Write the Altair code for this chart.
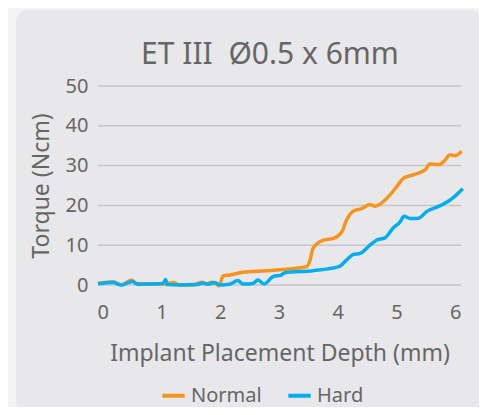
import altair as alt
import pandas as pd

normal_x = [-0.08, 0.18, 0.32, 0.49, 0.57, 1.03, 1.2, 1.31, 1.54, 1.68, 1.77, 1.85, 1.94, 1.98, 2.05, 2.16, 2.39, 2.79, 3.47, 3.53, 3.58, 3.76, 3.93, 4.07, 4.15, 4.27, 4.41, 4.55, 4.64, 4.81, 4.98, 5.12, 5.29, 5.49, 5.57, 5.72, 5.83, 5.91, 6.0, 6.11]
normal_y = [0.4, 0.8, 0.0, 1.25, 0.4, 0.25, 0.6, 0.0, 0.0, 0.7, 0.25, 0.7, 0.25, -0.2, 2.25, 2.5, 3.2, 3.6, 4.6, 6.25, 9.2, 11.25, 11.7, 13.3, 16.25, 18.6, 19.2, 20.2, 19.8, 21.4, 24.2, 26.8, 27.7, 28.9, 30.4, 30.25, 31.4, 32.7, 32.5, 33.6]

hard_x = [-0.08, 0.18, 0.32, 0.5, 0.6, 1.0, 1.05, 1.07, 1.1, 1.3, 1.6, 1.7, 1.8, 1.9, 2.0, 2.16, 2.3, 2.39, 2.56, 2.64, 2.75, 2.9, 3.04, 3.1, 3.58, 4.02, 4.15, 4.27, 4.38, 4.55, 4.66, 4.81, 4.95, 5.06, 5.13, 5.24, 5.38, 5.52, 5.72, 5.81, 5.98, 6.13]
hard_y = [0.3, 0.6, 0.0, 0.9, 0.2, 0.3, 0.8, 1.4, 0.1, 0.0, 0.1, 0.5, 0.2, 0.6, 0.0, 0.2, 1.1, 0.25, 0.4, 1.25, 0.25, 2.1, 2.5, 3.1, 3.6, 4.6, 6.25, 7.7, 7.9, 10.0, 11.25, 11.9, 14.4, 15.8, 17.25, 16.7, 16.8, 18.5, 19.75, 20.4, 22.1, 24.2]

y_ticks = [0, 10, 20, 30, 40, 50]
x_ticks = [0, 1, 2, 3, 4, 5, 6]
series = ["Normal", "Hard"]
colors = ["#f7941d", "#00aeef"]
title_text = "ET III \u00a0Ø0.5 x 6mm"

df = pd.concat([
    pd.DataFrame({"depth": normal_x, "torque": normal_y, "type": "Normal", "order": range(len(normal_x))}),
    pd.DataFrame({"depth": hard_x, "torque": hard_y, "type": "Hard", "order": range(len(hard_x))}),
])

W, H = 363, 199
FONT = "Noto Sans"
GREY = "#666666"

xscale = alt.Scale(domain=[-0.08, 6.1], nice=False, zero=False)
yscale = alt.Scale(domain=[0, 50], nice=False)
y_axis = alt.Axis(values=y_ticks, grid=False, domain=False, ticks=False,
                  labelPadding=10, labelFontSize=20, titleFontSize=23,
                  titlePadding=12, title="Torque (Ncm)",
                  labelOverlap=False, zindex=1)

one = pd.DataFrame({"a": [0]})

panel = alt.Chart(one).mark_rect(
    color="#e8e8eb", cornerRadius=12
).encode(
    x=alt.value(-82), x2=alt.value(385), y=alt.value(-76), y2=alt.value(327)
)

title = alt.Chart(one).mark_text(
    text=title_text, font=FONT, fontSize=30, color=GREY, align="center", baseline="alphabetic"
).encode(x=alt.value(172), y=alt.value(-22))

grid = alt.Chart(pd.DataFrame({"t": y_ticks})).mark_rule(
    color="#c6c6ca", strokeWidth=1.5
).encode(
    y=alt.Y("t:Q", scale=yscale, axis=y_axis, title="Torque (Ncm)"),
    x=alt.value(0), x2=alt.value(W),
)

lines = alt.Chart(df).mark_line(strokeWidth=3.5, interpolate="monotone").encode(
    x=alt.X("depth:Q", scale=xscale,
            axis=alt.Axis(values=x_ticks, grid=False, domain=False, ticks=False,
                          labelPadding=17, labelFontSize=20, titleFontSize=23,
                          titlePadding=20, title="Implant Placement Depth (mm)",
                          labelOverlap=False, zindex=1)),
    y=alt.Y("torque:Q", scale=yscale, axis=y_axis, title="Torque (Ncm)"),
    color=alt.Color("type:N", scale=alt.Scale(domain=series, range=colors),
                    legend=alt.Legend(title=None, orient="none", direction="horizontal",
                                      legendX=62, legendY=296, symbolType="stroke",
                                      symbolStrokeWidth=4, symbolSize=500,
                                      labelFontSize=20, columnPadding=18, zindex=1)),
    order="order:Q",
)

chart = alt.layer(panel, title, grid, lines).properties(
    width=W, height=H,
    background="#f3f3f5",
    padding={"left": 90, "top": 78, "right": 18, "bottom": 122},
    autosize=alt.AutoSizeParams(type="none"),
).configure_view(stroke=None).configure_axis(
    labelFont=FONT, titleFont=FONT, labelColor=GREY, titleColor=GREY,
    titleFontWeight="normal",
).configure_legend(labelFont=FONT, labelColor=GREY)

chart.save("out.html", embed_options={"renderer": "svg", "actions": False})
